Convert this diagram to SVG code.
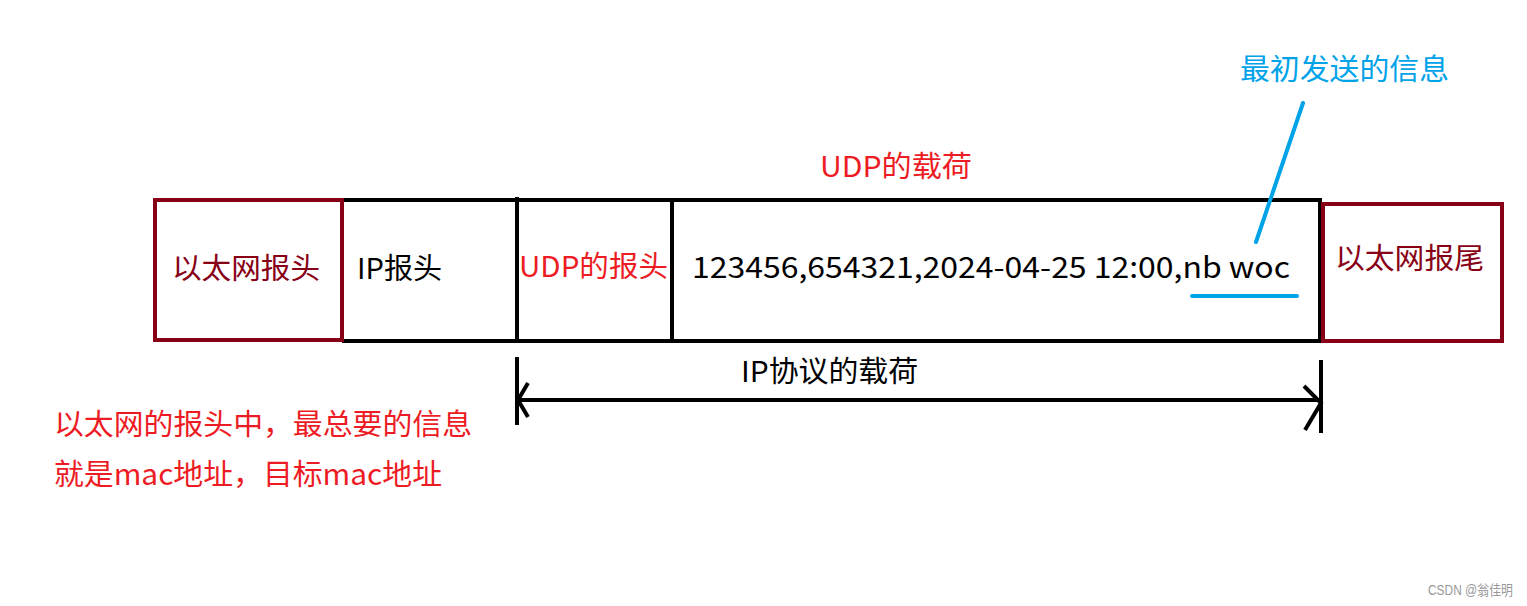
<svg xmlns="http://www.w3.org/2000/svg" width="1527" height="606" viewBox="0 0 1527 606">
<style>
text{font-family:"Noto Sans CJK SC","Noto Sans",sans-serif;font-size:29px}
.red{fill:#ED1C24}
.dred{fill:#880015}
.blk{fill:#000}
.blue{fill:#00A2E8}
.frame{fill:none;stroke:#000;stroke-width:4}
.eth{fill:none;stroke:#880015;stroke-width:4}
.bl{stroke:#00A2E8;stroke-width:4;stroke-linecap:round;fill:none}
.arr{stroke:#000;stroke-width:4;fill:none;stroke-linecap:butt}
</style>
<rect width="1527" height="606" fill="#fff"/>
<g id="frame">
<line class="frame" x1="342" y1="200" x2="1320" y2="200"/>
<line class="frame" x1="342" y1="341" x2="1320" y2="341"/>
<line class="frame" x1="517" y1="197" x2="517" y2="343"/>
<line class="frame" x1="672" y1="198" x2="672" y2="339"/>
<line class="frame" x1="1320" y1="198" x2="1320" y2="343"/>
</g>
<g id="eth-header">
<rect class="eth" x="155" y="200" width="187" height="140"/>
<text class="dred" x="172" y="279" textLength="148" lengthAdjust="spacingAndGlyphs">以太网报头</text>
</g>
<g id="ip-header">
<text class="blk" x="357" y="279" textLength="85" lengthAdjust="spacingAndGlyphs">IP报头</text>
</g>
<g id="udp-header">
<text class="red" x="519" y="277" textLength="149" lengthAdjust="spacingAndGlyphs">UDP的报头</text>
</g>
<g id="payload">
<text class="blk" x="692" y="278" textLength="598" lengthAdjust="spacingAndGlyphs">123456,654321,2024-04-25 12:00,nb woc</text>
</g>
<g id="eth-trailer">
<rect class="eth" x="1323" y="204" width="179" height="137"/>
<text class="dred" x="1335" y="269" textLength="149" lengthAdjust="spacingAndGlyphs">以太网报尾</text>
</g>
<g id="udp-payload-label">
<text class="red" x="820" y="177" textLength="152" lengthAdjust="spacingAndGlyphs">UDP的载荷</text>
</g>
<g id="original-info">
<text class="blue" x="1240" y="80" textLength="209" lengthAdjust="spacingAndGlyphs">最初发送的信息</text>
</g>
<g id="connectors">
<line class="bl" x1="1303" y1="103" x2="1256" y2="242"/>
<line class="bl" x1="1192" y1="296" x2="1297" y2="296"/>
<line class="arr" x1="517" y1="357" x2="517" y2="425"/>
<line class="arr" x1="1321" y1="360" x2="1321" y2="433"/>
<line class="arr" x1="517" y1="400" x2="1322" y2="400"/>
<polyline class="arr" points="528,383 518,400 528,417"/>
<polyline class="arr" points="1304,386 1321,403 1305,430"/>
</g>
<g id="ip-payload-label">
<text class="blk" x="741" y="382" textLength="177" lengthAdjust="spacingAndGlyphs">IP协议的载荷</text>
</g>
<g id="note">
<text class="red" x="54" y="435" textLength="418" lengthAdjust="spacingAndGlyphs">以太网的报头中，最总要的信息</text>
<text class="red" x="54" y="485" textLength="388" lengthAdjust="spacingAndGlyphs">就是mac地址，目标mac地址</text>
</g>
<text x="1428" y="595" textLength="85" lengthAdjust="spacingAndGlyphs" style="font-size:14px;fill:#999;font-family:'Liberation Sans','Noto Sans CJK SC',sans-serif">CSDN @翁佳明</text>
</svg>
